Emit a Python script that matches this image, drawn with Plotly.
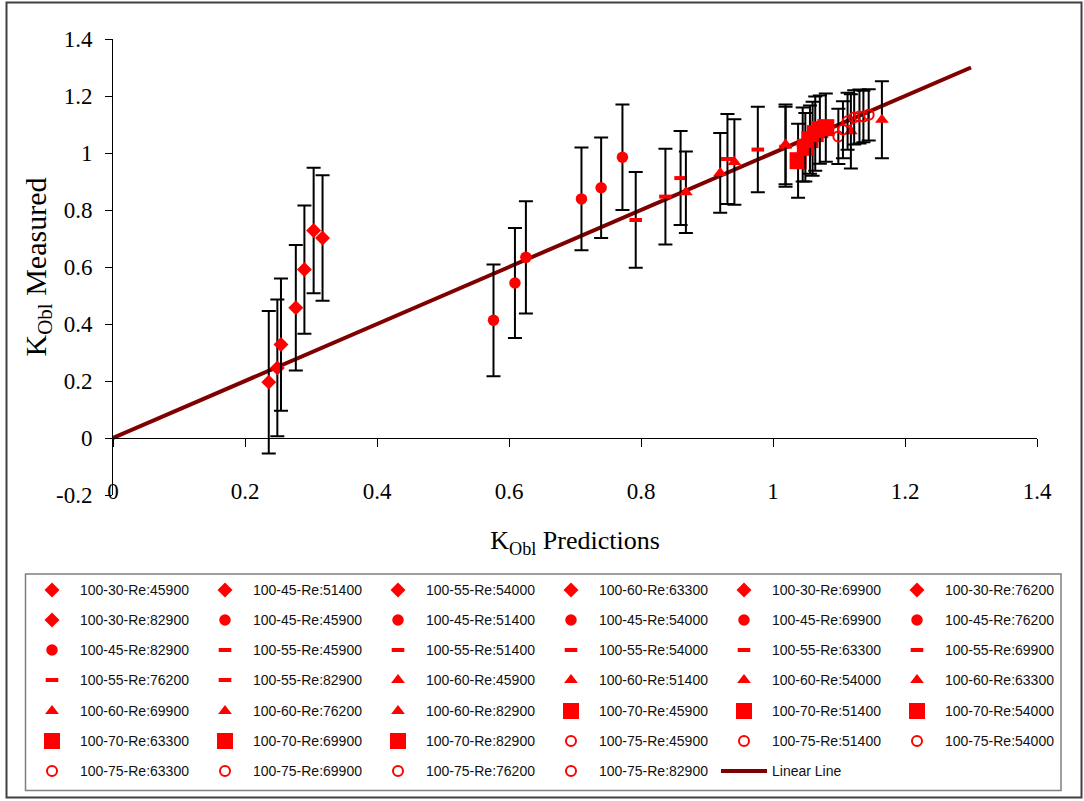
import plotly.graph_objects as go

# ---------------- data ----------------
diamond_names = ["100-30-Re:45900", "100-45-Re:51400", "100-55-Re:54000", "100-60-Re:63300",
                 "100-30-Re:69900", "100-30-Re:76200", "100-30-Re:82900"]
diamond_x = [0.236, 0.249, 0.2545, 0.277, 0.290, 0.304, 0.3175]
diamond_y = [0.196, 0.246, 0.328, 0.457, 0.591, 0.728, 0.702]
diamond_err = [0.25, 0.24, 0.232, 0.22, 0.225, 0.22, 0.22]

circle_names = ["100-45-Re:45900", "100-45-Re:51400", "100-45-Re:54000", "100-45-Re:69900",
                "100-45-Re:76200", "100-45-Re:82900"]
circle_x = [0.5765, 0.609, 0.6256, 0.7098, 0.7396, 0.7719]
circle_y = [0.413, 0.544, 0.634, 0.839, 0.878, 0.985]
circle_err = [0.196, 0.193, 0.197, 0.18, 0.176, 0.185]

dash_names = ["100-55-Re:45900", "100-55-Re:51400", "100-55-Re:54000", "100-55-Re:63300",
              "100-55-Re:69900", "100-55-Re:76200", "100-55-Re:82900"]
dash_x = [0.792, 0.837, 0.860, 0.931, 0.977, 1.019, 1.045]
dash_y = [0.765, 0.847, 0.912, 0.979, 1.012, 1.022, 1.030]
dash_err = [0.168, 0.168, 0.165, 0.158, 0.15, 0.14, 0.13]

tri_names = ["100-60-Re:45900", "100-60-Re:51400", "100-60-Re:54000", "100-60-Re:63300",
             "100-60-Re:69900", "100-60-Re:76200", "100-60-Re:82900"]
tri_x = [0.868, 0.920, 0.9415, 1.019, 1.060, 1.118, 1.165]
tri_y = [0.862, 0.930, 0.968, 1.030, 1.050, 1.076, 1.117]
tri_err = [0.143, 0.14, 0.15, 0.14, 0.13, 0.13, 0.135]

square_names = ["100-70-Re:45900", "100-70-Re:51400", "100-70-Re:54000", "100-70-Re:63300",
                "100-70-Re:69900", "100-70-Re:82900"]
square_x = [1.038, 1.049, 1.056, 1.064, 1.071, 1.080]
square_y = [0.973, 1.020, 1.047, 1.068, 1.082, 1.089]
square_err = [0.13, 0.12, 0.12, 0.13, 0.12, 0.12]

ring_names = ["100-75-Re:45900", "100-75-Re:51400", "100-75-Re:54000", "100-75-Re:63300",
              "100-75-Re:69900", "100-75-Re:76200", "100-75-Re:82900"]
ring_x = [1.099, 1.106, 1.113, 1.123, 1.131, 1.137, 1.145]
ring_y = [1.058, 1.082, 1.111, 1.125, 1.128, 1.128, 1.134]
ring_err = [0.097, 0.10, 0.10, 0.095, 0.095, 0.09, 0.09]

line_name = "Linear Line"
line_x = [0.0, 1.3]
line_y = [0.0, 1.3]

x_tickvals = [0, 0.2, 0.4, 0.6, 0.8, 1.0, 1.2, 1.4]
x_ticktext = ["0", "0.2", "0.4", "0.6", "0.8", "1", "1.2", "1.4"]
y_tickvals = [-0.2, 0, 0.2, 0.4, 0.6, 0.8, 1.0, 1.2, 1.4]
y_ticktext = ["-0.2", "0", "0.2", "0.4", "0.6", "0.8", "1", "1.2", "1.4"]

# ---------------- layout geometry ----------------
FW, FH = 1084, 801
L, T = 113, 39
PW, PH = 924, 456
R = FW - L - PW
B = FH - T - PH

def px_x(p):
    return (p - L) / PW

def px_y(p):
    return (T + PH - p) / PH

RED = "#FF0000"
groups = [
    (diamond_names, diamond_x, diamond_y, diamond_err, dict(symbol="diamond", size=11.5, color=RED)),
    (circle_names, circle_x, circle_y, circle_err, dict(symbol="circle", size=11.5, color=RED)),
    (dash_names, dash_x, dash_y, dash_err, dict(symbol="line-ew", size=9, color=RED,
                                                line=dict(color=RED, width=4))),
    (tri_names, tri_x, tri_y, tri_err, dict(symbol="triangle-up", size=12, color=RED)),
    (square_names, square_x, square_y, square_err, dict(symbol="square", size=17, color=RED)),
    (ring_names, ring_x, ring_y, ring_err, dict(symbol="circle-open", size=10, color=RED,
                                                line=dict(color=RED, width=2))),
]

fig = go.Figure()

N_PER_ROW = 6
total_series = sum(len(g[0]) for g in groups)
line_legend_idx = total_series // N_PER_ROW + 1

def legend_key(i):
    return "legend" if i == 1 else f"legend{i}"

# linear line first (drawn under the markers) but ranked last in the legend
fig.add_trace(go.Scatter(
    x=line_x, y=line_y, mode="lines", name=line_name,
    line=dict(color="#800000", width=4),
    legend=legend_key(line_legend_idx),
    legendrank=2000,
))

k = 0
for names, xs, ys, errs, mk in groups:
    for n, xv, yv, ev in zip(names, xs, ys, errs):
        fig.add_trace(go.Scatter(
            x=[xv], y=[yv], mode="markers", name=n,
            marker=mk,
            error_y=dict(type="data", array=[ev], visible=True, color="black",
                         thickness=2, width=7),
            legend=legend_key(k // N_PER_ROW + 1),
            legendrank=1000 + k,
        ))
        k += 1

# legends: one per row so that the row pitch matches the reference
row_centers = [590, 620, 650, 680, 711, 741, 771]
col_pitch = 173
item_w = 46
text_gap = item_w + 10
first_item_left = 24
n_rows = line_legend_idx
legend_font = dict(family="Liberation Sans, Arial, sans-serif", size=14, color="#111111")
leg_layout = {}
for r in range(n_rows):
    leg_layout[legend_key(r + 1)] = dict(
        orientation="h", x=px_x(first_item_left), xanchor="left",
        y=px_y(row_centers[r] - 15.6), yanchor="top",
        entrywidth=col_pitch - text_gap - 5, entrywidthmode="pixels", itemwidth=item_w,
        font=legend_font, bgcolor="rgba(0,0,0,0)", borderwidth=0,
        traceorder="normal",
    )

serif = "Liberation Serif, Times New Roman, serif"
fig.update_layout(
    width=FW, height=FH,
    margin=dict(l=L, r=R, t=T, b=B, autoexpand=False),
    paper_bgcolor="white", plot_bgcolor="white",
    showlegend=True,
    **leg_layout,
    xaxis=dict(
        range=[0, 1.4], tickvals=x_tickvals, ticktext=x_ticktext,
        anchor="free", position=0.2 / 1.6,
        showline=True, linecolor="black", linewidth=1,
        ticks="outside", ticklen=8, tickcolor="black", tickwidth=1,
        ticklabelstandoff=24,
        showgrid=False, zeroline=False, automargin=False,
        tickfont=dict(family=serif, size=23, color="black"),
        title=dict(text="K<sub>Obl</sub> Predictions", standoff=28,
                   font=dict(family=serif, size=26, color="black")),
    ),
    yaxis=dict(
        range=[-0.2, 1.4], tickvals=y_tickvals, ticktext=y_ticktext,
        showline=True, linecolor="black", linewidth=1,
        ticks="outside", ticklen=7, tickcolor="black", tickwidth=1,
        ticklabelstandoff=8,
        showgrid=False, zeroline=False, automargin=False,
        tickfont=dict(family=serif, size=23, color="black"),
        title=dict(text="K<sub>Obl</sub> Measured", standoff=0,
                   font=dict(family=serif, size=30, color="black")),
    ),
    shapes=[
        # outer chart frame
        dict(type="rect", xref="paper", yref="paper",
             x0=px_x(6.5), x1=px_x(1081.5), y0=px_y(797.5), y1=px_y(2.5),
             line=dict(color="#404040", width=2), fillcolor="rgba(0,0,0,0)", layer="below"),
        # legend frame
        dict(type="rect", xref="paper", yref="paper",
             x0=px_x(25.5), x1=px_x(1061), y0=px_y(790.5), y1=px_y(574),
             line=dict(color="#7f7f7f", width=1.5), fillcolor="rgba(0,0,0,0)", layer="below"),
    ],
)

fig.write_html("out.html", config={"displayModeBar": False},
               post_script="document.body.style.margin='0px';")
